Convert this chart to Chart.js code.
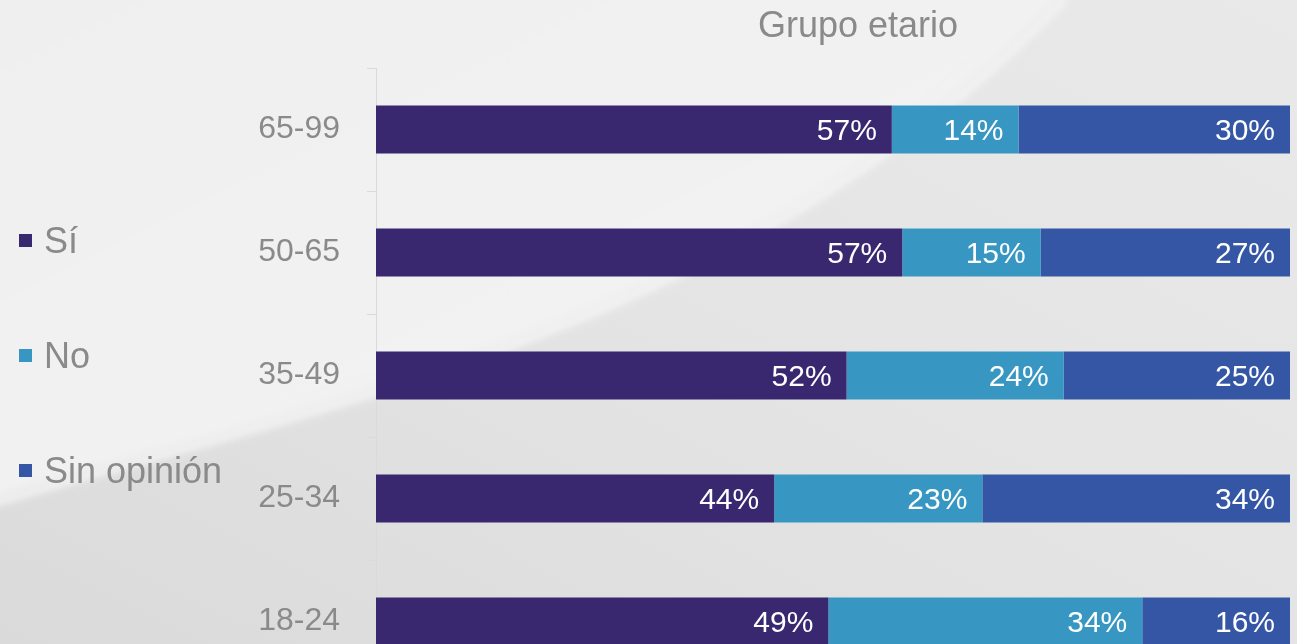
<!DOCTYPE html>
<html>
<head>
<meta charset="utf-8">
<script src="https://cdn.jsdelivr.net/npm/chart.js@4"></script>
<style>
  html, body { margin: 0; padding: 0; }
  body { width: 1297px; height: 644px; overflow: hidden; position: relative; font-family: "Liberation Sans", Arial, sans-serif; }
  #bg { position: absolute; left: 0; top: 0; }
  #wrap { position: absolute; left: 0; top: 0; width: 1297px; height: 683px; }
  #chart { display: block; width: 1297px; height: 683px; }
  #title { position: absolute; left: 658px; width: 400px; top: 5px; text-align: center; font-size: 36px; color: #8a8a8a; line-height: 40px; }
  .leg { position: absolute; left: 19px; font-size: 36px; color: #8a8a8a; line-height: 40px; white-space: nowrap; }
  .leg i { display: inline-block; width: 13px; height: 13px; margin-right: 12px; vertical-align: middle; position: relative; top: -3px; }
</style>
</head>
<body>
<svg id="bg" width="1297" height="644">
  <defs>
    <filter id="blur" x="-20%" y="-20%" width="140%" height="140%"><feGaussianBlur stdDeviation="7"/></filter>
    <filter id="blur2"><feGaussianBlur stdDeviation="3"/></filter>
    <linearGradient id="dark" x1="0" y1="1" x2="1" y2="0">
      <stop offset="0" stop-color="#dadada"/>
      <stop offset="0.5" stop-color="#e4e4e4"/>
      <stop offset="1" stop-color="#e9e9e9"/>
    </linearGradient>
    <linearGradient id="light" x1="0" y1="0" x2="1" y2="1">
      <stop offset="0" stop-color="#efefef"/>
      <stop offset="1" stop-color="#f4f4f4"/>
    </linearGradient>
  </defs>
  <rect x="0" y="0" width="1297" height="644" fill="url(#dark)"/>
  <path d="M-60,-60 L1110,-60 L1060,0 C750,330 300,410 0,500 L-60,520 Z" fill="url(#light)" filter="url(#blur)"/>
  <path d="M1065,0 C750,330 300,410 -10,505" stroke="#f8f8f8" stroke-width="5" fill="none" opacity="0.7" filter="url(#blur2)"/>
</svg>
<div id="wrap"><canvas id="chart"></canvas></div>
<div id="title">Grupo etario</div>
<div id="legend"></div>
<script>
const categories = ['65-99', '50-65', '35-49', '25-34', '18-24'];
const si = [57, 57, 52, 44, 49];
const no = [14, 15, 24, 23, 34];
const sinOpinion = [30, 27, 25, 34, 16];
const seriesNames = ['Sí', 'No', 'Sin opinión'];
const seriesColors = ['#392870', '#3797c2', '#3456a4'];
const legendTops = [221, 336, 451];

const rawSeries = [si, no, sinOpinion];
const totals = categories.map((_, i) => rawSeries.reduce((s, arr) => s + arr[i], 0));

const datasets = rawSeries.map((arr, k) => ({
  label: seriesNames[k],
  data: arr.map((v, i) => v / totals[i] * 100),
  raw: arr,
  backgroundColor: seriesColors[k],
  borderWidth: 0,
  categoryPercentage: 1,
  barPercentage: 0.39
}));

const legend = document.getElementById('legend');
seriesNames.forEach((name, k) => {
  const d = document.createElement('div');
  d.className = 'leg';
  d.style.top = legendTops[k] + 'px';
  const sw = document.createElement('i');
  sw.style.background = seriesColors[k];
  d.appendChild(sw);
  d.appendChild(document.createTextNode(name));
  legend.appendChild(d);
});

const valueLabels = {
  id: 'valueLabels',
  afterDatasetsDraw(chart) {
    const ctx = chart.ctx;
    ctx.save();
    ctx.font = '30px "Liberation Sans", Arial, sans-serif';
    ctx.fillStyle = '#ffffff';
    ctx.textAlign = 'right';
    ctx.textBaseline = 'middle';
    chart.data.datasets.forEach((ds, di) => {
      const meta = chart.getDatasetMeta(di);
      meta.data.forEach((bar, i) => {
        const p = bar.getProps(['x', 'y'], true);
        ctx.fillText(ds.raw[i] + '%', p.x - 15, p.y + 2);
      });
    });
    ctx.restore();
  }
};

new Chart(document.getElementById('chart'), {
  type: 'bar',
  data: { labels: categories, datasets },
  options: {
    responsive: true,
    maintainAspectRatio: false,
    animation: false,
    indexAxis: 'y',
    layout: { padding: { top: 68, right: 7, bottom: 0, left: 0 } },
    plugins: { legend: { display: false }, tooltip: { enabled: false }, title: { display: false } },
    scales: {
      x: { stacked: true, min: 0, max: 100, display: false },
      y: {
        stacked: true,
        grid: { display: true, drawOnChartArea: false, tickLength: 9, color: '#dadada', offset: true },
        border: { display: true, color: '#dadada' },
        ticks: { color: '#8a8a8a', padding: 27, font: { size: 32, family: '"Liberation Sans", Arial, sans-serif' } },
        afterFit(scale) { scale.width = 376; scale.paddingTop = 0; scale.paddingBottom = 0; }
      }
    }
  },
  plugins: [valueLabels]
});
</script>
</body>
</html>
